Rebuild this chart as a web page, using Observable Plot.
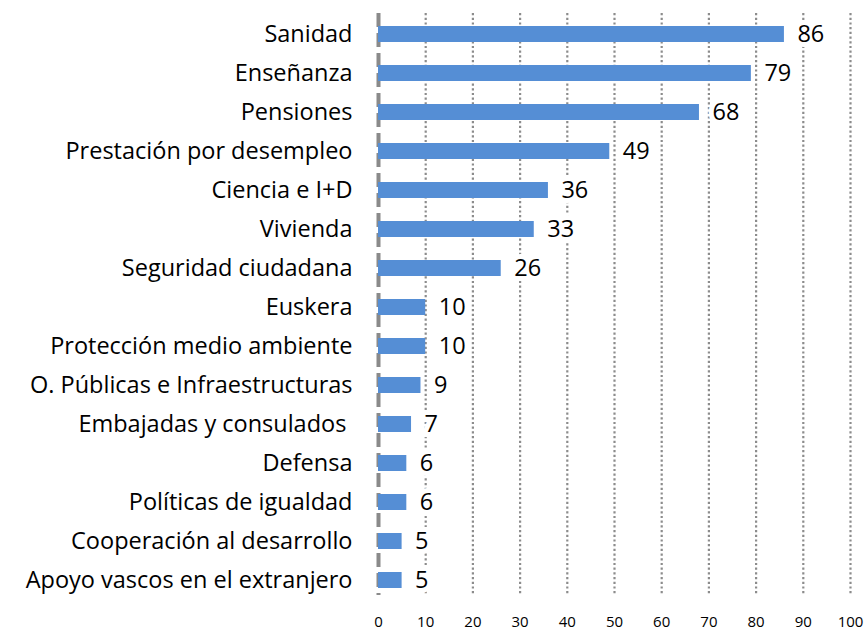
<!DOCTYPE html>
<html>
<head>
<meta charset="utf-8">
<script src="https://cdn.jsdelivr.net/npm/d3@7"></script>
<script src="https://cdn.jsdelivr.net/npm/@observablehq/plot@0.6"></script>
<style>
  html, body { margin: 0; padding: 0; background: #fff; }
  svg { display: block; }
</style>
</head>
<body>
<div id="chart"></div>
<script>
const categories = [
  "Sanidad", "Enseñanza", "Pensiones", "Prestación por desempleo", "Ciencia e I+D",
  "Vivienda", "Seguridad ciudadana", "Euskera", "Protección medio ambiente",
  "O. Públicas e Infraestructuras", "Embajadas y consulados ", "Defensa",
  "Políticas de igualdad", "Cooperación al desarrollo", "Apoyo vascos en el extranjero"
];
const values = [86, 79, 68, 49, 36, 33, 26, 10, 10, 9, 7, 6, 6, 5, 5];
const xTicks = [0, 10, 20, 30, 40, 50, 60, 70, 80, 90, 100];

const data = categories.map((c, i) => ({category: c, value: values[i]}));
const gridTicks = xTicks.filter(t => t > 0);

const chart = Plot.plot({
  width: 868,
  height: 631,
  marginLeft: 378,
  marginRight: 18,
  marginTop: 13,
  marginBottom: 36,
  style: {fontFamily: "'Open Sans', Lato, sans-serif", color: "#000", background: "#fff"},
  x: {domain: [0, 100], ticks: xTicks, label: null},
  y: {domain: categories, label: null, range: [13.5, 599.6], paddingInner: 0.59, paddingOuter: 0.295},
  marks: [
    Plot.ruleX(gridTicks, {stroke: "#8c8c8c", strokeWidth: 2.2, strokeDasharray: "2.2,2.5"}),
    Plot.ruleX([0], {stroke: "#8a8a8a", strokeWidth: 4, strokeDasharray: "14,6"}),
    Plot.barX(data, {x: "value", y: "category", fill: "#558ED5"}),
    Plot.text(data, {
      x: "value", y: "category", text: d => String(d.value),
      textAnchor: "start", dx: 13, fontSize: 23.5, fill: "#000",
      stroke: "#fff", strokeWidth: 10, strokeLinejoin: "miter", paintOrder: "stroke"
    }),
    Plot.axisY({tickSize: 0, tickPadding: 26, fontSize: 23.5, label: null, fill: "#000"}),
    Plot.axisX({ticks: xTicks, tickSize: 0, tickPadding: 21, fontSize: 15, label: null, fill: "#000", tickFormat: d => String(d)})
  ]
});
document.getElementById("chart").appendChild(chart);
</script>
</body>
</html>
